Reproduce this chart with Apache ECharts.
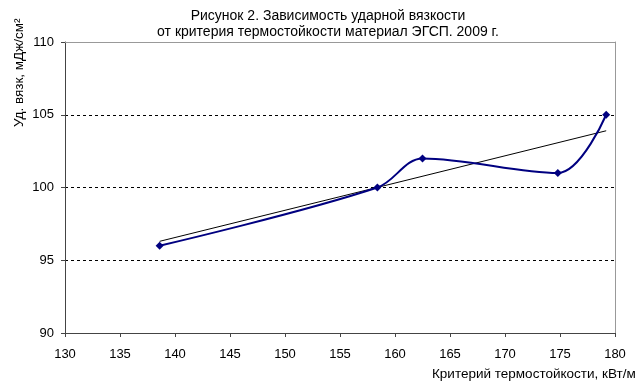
<!DOCTYPE html>
<html><head><meta charset="utf-8">
<script src="https://cdn.jsdelivr.net/npm/echarts@6/dist/echarts.min.js"></script>
<style>html,body{margin:0;padding:0;background:#fff}#c{width:644px;height:390px}</style>
</head><body><div id="c"></div>
<script>
const xValues = [138.6, 158.4, 162.5, 174.8, 179.2];
const yValues = [96, 100, 102, 101, 105];
const trendX = [138.6, 179.2];
const trendY = [96.3, 103.9];
const titleLines = ['Рисунок 2. Зависимость ударной вязкости', 'от критерия термостойкости материал ЭГСП. 2009 г.'];
const yName = 'Уд. вязк, мДж/см²';
const xName = 'Критерий термостойкости, кВт/м';

const font = 'Liberation Sans, Arial, sans-serif';
const chart = echarts.init(document.getElementById('c'), null, {renderer: 'canvas'});
chart.setOption({
  animation: false,
  title: {
    text: titleLines.join('\n'), left: 323, top: 3, textAlign: 'center',
    textStyle: {fontFamily: font, fontSize: 14, fontWeight: 'normal', color: '#000', lineHeight: 16}
  },
  grid: {left: 65, right: 29, top: 42, bottom: 57},
  xAxis: [{
    type: 'value', min: 130, max: 180, interval: 5,
    axisLine: {show: true, onZero: false, lineStyle: {color: '#444', width: 1}},
    axisTick: {show: true, length: 4, lineStyle: {color: '#444'}},
    axisLabel: {fontFamily: font, fontSize: 13, color: '#000', margin: 15},
    splitLine: {show: false}
  }, {
    type: 'value', min: 130, max: 180, position: 'top',
    axisLine: {show: true, lineStyle: {color: '#999', width: 1}},
    axisTick: {show: false}, axisLabel: {show: false}, splitLine: {show: false}
  }],
  yAxis: [{
    type: 'value', min: 90, max: 110, interval: 5,
    axisLine: {show: true, onZero: false, lineStyle: {color: '#444', width: 1}},
    axisTick: {show: true, length: 4, lineStyle: {color: '#444'}},
    axisLabel: {fontFamily: font, fontSize: 13, color: '#000', margin: 11},
    splitLine: {show: true, lineStyle: {color: '#000', type: [3, 3], width: 1}}
  }, {
    type: 'value', min: 90, max: 110, position: 'right',
    axisLine: {show: true, lineStyle: {color: '#999', width: 1}},
    axisTick: {show: false}, axisLabel: {show: false}, splitLine: {show: false}
  }],
  graphic: [{
    type: 'text', x: 19, y: 127, rotation: Math.PI / 2,
    style: {text: yName, fontFamily: font, fontSize: 13.5, fill: '#000', align: 'left', verticalAlign: 'middle'}
  }, {
    type: 'text', x: 432, y: 374,
    style: {text: xName, fontFamily: font, fontSize: 13.5, fill: '#000', align: 'left', verticalAlign: 'middle'}
  }],
  series: [{
    type: 'line', xAxisIndex: 0, yAxisIndex: 0,
    data: trendX.map((x, i) => [x, trendY[i]]),
    symbol: 'none', lineStyle: {color: '#000', width: 1}, z: 3
  }, {
    type: 'line', xAxisIndex: 0, yAxisIndex: 0,
    data: xValues.map((x, i) => [x, yValues[i]]),
    smooth: 0.35, symbol: 'diamond', symbolSize: 8,
    itemStyle: {color: '#000080'}, lineStyle: {color: '#000080', width: 2}, z: 4
  }]
});
</script>
</body></html>
